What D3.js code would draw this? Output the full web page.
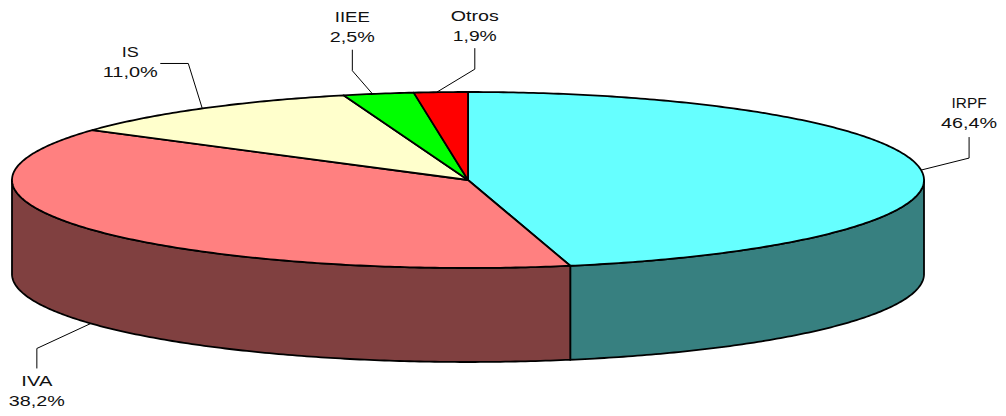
<!DOCTYPE html>
<html>
<head>
<meta charset="utf-8">
<script src="https://cdn.jsdelivr.net/npm/d3@7"></script>
<style>
  html, body { margin: 0; padding: 0; background: #fff; }
  svg { display: block; }
  text { font-family: "Liberation Sans", Arial, sans-serif; font-size: 15.5px; fill: #111; }
</style>
</head>
<body>
<div id="chart"></div>
<script>
const categories = ["IRPF", "IVA", "IS", "IIEE", "Otros"];
const shares     = [46.4, 38.2, 11.0, 2.5, 1.9];
const shareText  = ["46,4%", "38,2%", "11,0%", "2,5%", "1,9%"];

const topColors  = ["#66ffff", "#ff8080", "#ffffcc", "#00ff00", "#ff0000"];
const wallColors = ["#378080", "#804040", "#808066", "#008000", "#800000"];

const width = 1006, height = 416;
const depth = 94;

// pie lies flat: unit circle squashed through the two scales
const x = d3.scaleLinear().domain([-1, 1]).range([12, 924]);
const y = d3.scaleLinear().domain([-1, 1]).range([92, 268]);

const px = a => x(Math.sin(a));
const py = a => y(-Math.cos(a));

const svg = d3.select("#chart").append("svg")
  .attr("width", width)
  .attr("height", height);

const slices = d3.pie().sort(null).value(d => d)(shares);

function arcAngles(a0, a1) {
  const n = Math.max(2, Math.ceil((a1 - a0) * 90));
  return d3.range(n + 1).map(i => a0 + (a1 - a0) * i / n);
}

const line = d3.line().x(d => d[0]).y(d => d[1]);

// ── Walls ────────────────────────────────────────────────────────────────
slices.forEach((s, i) => {
  const a0 = Math.max(s.startAngle, Math.PI / 2);
  const a1 = Math.min(s.endAngle, Math.PI * 3 / 2);
  if (a1 <= a0) return;
  const upper = arcAngles(a0, a1).map(a => [px(a), py(a)]);
  const lower = arcAngles(a0, a1).reverse().map(a => [px(a), py(a) + depth]);
  svg.append("path")
    .attr("d", line(upper.concat(lower)) + "Z")
    .attr("fill", wallColors[i])
    .attr("stroke", "#000")
    .attr("stroke-width", 1.8)
    .attr("stroke-linejoin", "round");
});

// ── Top face ─────────────────────────────────────────────────────────────
slices.forEach((s, i) => {
  const rim = arcAngles(s.startAngle, s.endAngle).map(a => [px(a), py(a)]);
  svg.append("path")
    .attr("d", line([[x(0), y(0)]].concat(rim)) + "Z")
    .attr("fill", topColors[i])
    .attr("stroke", "#000")
    .attr("stroke-width", 1.8)
    .attr("stroke-linejoin", "round");
});

// ── Labels & leader lines ────────────────────────────────────────────────
// label centre relative to the slice anchor, elbow placed per label.
// the reference text is stretched sideways, so widths are set per line
const labelLayout = [
  { nudge: 0,  dx: 48,  dy: -62, elbow: "v", elbowDy: -12, lift: -33, nameW: 35, valueW: 56 },
  { nudge: 0,  dx: -54, dy: 63,  elbow: "v", elbowDy: 25,  lift: 45,  nameW: 31, valueW: 56 },
  { nudge: 0,  dx: -72, dy: -51, elbow: "h", elbowDx: -14, lift: -45, nameW: 17, valueW: 55 },
  { nudge: -6, dx: -20, dy: -72, elbow: "v", elbowDy: -23, lift: -44, nameW: 35, valueW: 45 },
  { nudge: -4, dx: 38,  dy: -71, elbow: "v", elbowDy: -23, lift: -44, nameW: 48, valueW: 44 }
];

slices.forEach((s, i) => {
  const mid = (s.startAngle + s.endAngle) / 2;
  const front = Math.cos(mid) < 0 && i === 1;
  const l = labelLayout[i];
  const ax = px(mid) + l.nudge;
  const ay = py(mid) + (front ? depth : 0);
  const lx = ax + l.dx, ly = ay + l.dy;

  let pts;
  if (l.elbow === "v") {
    pts = [[ax, ay], [lx, ay + l.elbowDy], [lx, ay + l.lift]];
  } else {
    pts = [[ax, ay], [ax + l.elbowDx, ay + l.lift], [ax + l.dx + 30, ay + l.lift]];
  }
  svg.append("path")
    .attr("d", line(pts))
    .attr("fill", "none")
    .attr("stroke", "#000")
    .attr("stroke-width", 1);

  const t = svg.append("text").attr("text-anchor", "middle");
  t.append("tspan").attr("x", lx).attr("y", ly)
    .attr("textLength", l.nameW).attr("lengthAdjust", "spacingAndGlyphs")
    .text(categories[i]);
  t.append("tspan").attr("x", lx).attr("y", ly + 20)
    .attr("textLength", l.valueW).attr("lengthAdjust", "spacingAndGlyphs")
    .text(shareText[i]);
});
</script>
</body>
</html>
